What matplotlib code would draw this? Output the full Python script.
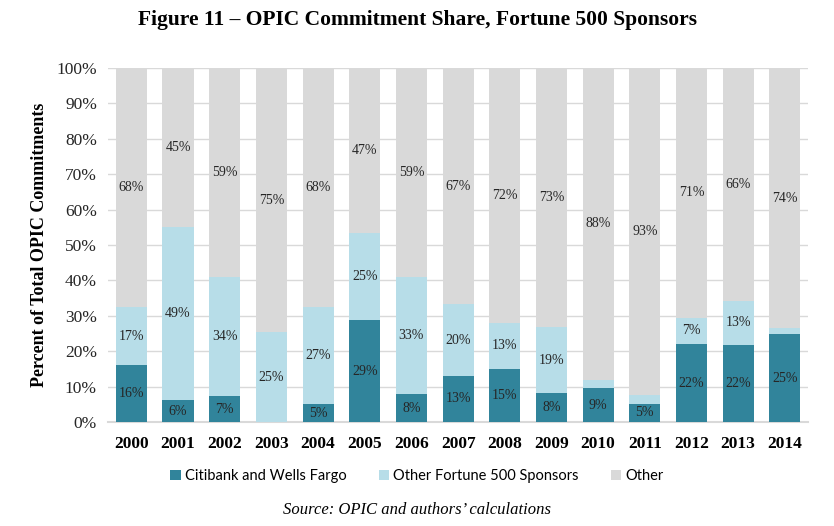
import matplotlib
matplotlib.use("Agg")
import matplotlib.pyplot as plt
import numpy as np

# Data
years = ["2000", "2001", "2002", "2003", "2004", "2005", "2006", "2007",
         "2008", "2009", "2010", "2011", "2012", "2013", "2014"]
citi = [16.0, 6.2, 7.3, 0.0, 5.0, 28.8, 7.8, 13.0, 15.0, 8.2, 9.5, 5.2, 22.0, 21.8, 24.8]
other_f500 = [16.5, 48.8, 33.7, 25.3, 27.5, 24.5, 33.2, 20.3, 13.0, 18.6, 2.5, 2.3, 7.5, 12.5, 1.7]
other = [67.5, 45.0, 59.0, 74.7, 67.5, 46.7, 59.0, 66.7, 72.0, 73.2, 88.0, 92.5, 70.5, 65.7, 73.5]

citi_labels = ["16%", "6%", "7%", "", "5%", "29%", "8%", "13%", "15%", "8%", "9%", "5%", "22%", "22%", "25%"]
f500_labels = ["17%", "49%", "34%", "25%", "27%", "25%", "33%", "20%", "13%", "19%", "", "", "7%", "13%", ""]
other_labels = ["68%", "45%", "59%", "75%", "68%", "47%", "59%", "67%", "72%", "73%", "88%", "93%", "71%", "66%", "74%"]

C_CITI = "#31849b"
C_F500 = "#b7dde8"
C_OTHER = "#d9d9d9"

SERIF = "Liberation Serif"

fig = plt.figure(figsize=(8.34, 5.26), dpi=100)
ax = fig.add_axes([0.1295, 0.1977, 0.8395, 0.673])

x = np.arange(len(years))
w = 0.665
b1 = ax.bar(x, citi, w, color=C_CITI, label="Citibank and Wells Fargo", zorder=3)
b2 = ax.bar(x, other_f500, w, bottom=citi, color=C_F500,
            label="Other Fortune 500 Sponsors", zorder=3)
bottom2 = np.array(citi) + np.array(other_f500)
b3 = ax.bar(x, other, w, bottom=bottom2, color=C_OTHER, label="Other", zorder=3)

lbl_kw = dict(ha="center", va="center", fontsize=10, family=SERIF, color="#262626", zorder=4)
for i in range(len(years)):
    if citi_labels[i]:
        ax.text(x[i], citi[i] / 2, citi_labels[i], **lbl_kw)
    if f500_labels[i]:
        ax.text(x[i], citi[i] + other_f500[i] / 2, f500_labels[i], **lbl_kw)
    if other_labels[i]:
        ax.text(x[i], bottom2[i] + other[i] / 2, other_labels[i], **lbl_kw)

ax.set_xlim(-0.5, len(years) - 0.5)
ax.set_ylim(0, 100)
ax.set_yticks(np.arange(0, 101, 10))
ax.set_yticklabels([f"{v}%" for v in range(0, 101, 10)], family=SERIF, fontsize=12.5, color="#262626")
ax.set_xticks(x)
ax.set_xticklabels(years, family=SERIF, fontsize=12.5, fontweight="bold", color="black")
ax.tick_params(axis="both", length=0)
ax.tick_params(axis="x", pad=10)
ax.tick_params(axis="y", pad=8)

ax.yaxis.grid(True, color="#d9d9d9", linewidth=1.0, zorder=0)
for s in ["top", "right", "left"]:
    ax.spines[s].set_visible(False)
ax.spines["bottom"].set_color("#d9d9d9")
ax.spines["bottom"].set_linewidth(1.5)

ax.set_ylabel("Percent of Total OPIC Commitments", family=SERIF, fontsize=13,
              fontweight="bold", labelpad=6)

fig.text(0.5, 0.962, "Figure 11 \u2013 OPIC Commitment Share, Fortune 500 Sponsors",
         ha="center", va="center", family=SERIF, fontsize=15.5, fontweight="bold")

fig.legend(handles=[b1, b2, b3], loc="center", bbox_to_anchor=(0.5, 0.095), ncol=3,
           frameon=False, prop={"family": "Lato", "size": 10.5},
           handlelength=0.7, handleheight=0.7, handletextpad=0.3, columnspacing=2.2)

fig.text(0.5, 0.03, "Source: OPIC and authors\u2019 calculations", ha="center", va="center",
         family=SERIF, fontsize=12, style="italic")

fig.savefig("out.png", dpi=100)
